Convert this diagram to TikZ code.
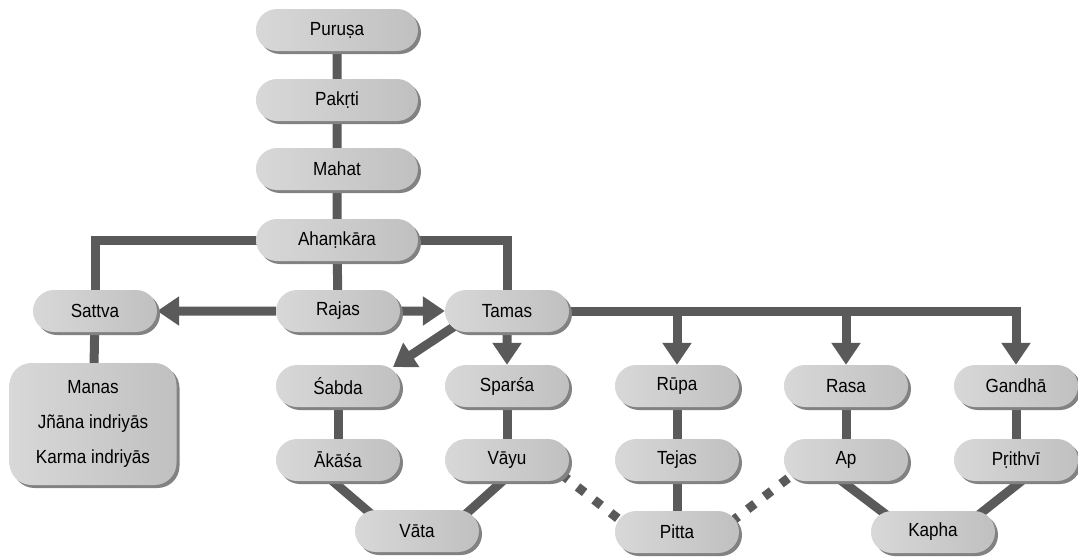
\documentclass[tikz,border=0pt]{standalone}
\usepackage{fontspec}
\setmainfont{Liberation Sans}[FakeStretch=0.9]
\usetikzlibrary{shapes.misc,shadows,arrows.meta,backgrounds}
\definecolor{linegray}{RGB}{90,90,90}
\definecolor{pillL}{RGB}{216,216,216}
\definecolor{pillR}{RGB}{192,192,192}
\definecolor{shadowgray}{RGB}{130,130,130}
\tikzset{
  pill/.style={rounded rectangle, minimum width=124pt, minimum height=42pt, inner sep=0pt,
    left color=pillL, right color=pillR, draw=none,
    drop shadow={shadow xshift=3pt, shadow yshift=-3pt, fill=shadowgray, opacity=1},
    font=\fontsize{19}{22}\selectfont},
  widepill/.style={pill, minimum width=162pt},
  bigbox/.style={rectangle, rounded corners=22pt, minimum width=167pt, minimum height=122pt,
    left color=pillL, right color=pillR, draw=none, align=center,
    drop shadow={shadow xshift=3pt, shadow yshift=-3pt, fill=shadowgray, opacity=1},
    font=\fontsize{19}{35}\selectfont},
  conn/.style={draw=linegray, line width=9pt},
  arr/.style={conn, -{Triangle[length=22pt,width=28pt]}},
  dots/.style={conn, dash pattern=on 9pt off 12pt},
}
\begin{document}
\begin{tikzpicture}[x=1pt,y=-1pt]
\useasboundingbox (0,0) rectangle (1078,557);
\node[widepill] (purusa) at (337,30) {Puruṣa};
\node[widepill] (pakrti) at (337,100) {Pakṛti};
\node[widepill] (mahat) at (337,169) {Mahat};
\node[widepill] (ahamkara) at (337,240) {Ahaṃkāra};
\node[pill] (sattva) at (95,311) {Sattva};
\node[pill] (rajas) at (338,311) {Rajas};
\node[pill] (tamas) at (507,311) {Tamas};
\node[bigbox] (manas) at (93,424) {Manas\\Jñāna indriyās\\Karma indriyās};
\node[pill] (sabda) at (338,386) {Śabda};
\node[pill] (sparsa) at (507,386) {Sparśa};
\node[pill] (rupa) at (677,386) {Rūpa};
\node[pill] (rasa) at (846,386) {Rasa};
\node[pill] (gandha) at (1016,386) {Gandhā};
\node[pill] (akasa) at (338,460) {Ākāśa};
\node[pill] (vayu) at (507,460) {Vāyu};
\node[pill] (tejas) at (677,460) {Tejas};
\node[pill] (ap) at (846,460) {Ap};
\node[pill] (prthvi) at (1016,460) {Pṛithvī};
\node[pill] (vata) at (417,531) {Vāta};
\node[pill] (pitta) at (677,532) {Pitta};
\node[pill] (kapha) at (933,532) {Kapha};

\coordinate (sabdatip) at (393,367);
\coordinate (tamasin) at (470,316);

\begin{pgfonlayer}{background}
\draw[conn] (purusa) -- (pakrti) -- (mahat) -- (ahamkara);
\draw[conn] (ahamkara.center) -- (rajas.center);
\draw[conn] (ahamkara.center) -| (sattva.center);
\draw[conn] (ahamkara.center) -| (tamas.center);
\draw[conn] (sattva.center) -- (manas.center);
\draw[arr] (rajas) -- (sattva);
\draw[arr] (rajas) -- (tamas);
\draw[arr] (tamasin) -- (sabdatip);
\draw[arr] (tamas) -- (sparsa);
\draw[arr] (tamas.center) -| (gandha);
\draw[arr] (tamas.center -| rupa) -- (rupa);
\draw[arr] (tamas.center -| rasa) -- (rasa);
\draw[conn] (sabda.center) -- (akasa.center);
\draw[conn] (sparsa.center) -- (vayu.center);
\draw[conn] (rupa.center) -- (tejas.center) -- (pitta.center);
\draw[conn] (rasa.center) -- (ap.center);
\draw[conn] (gandha.center) -- (prthvi.center);
\draw[conn] ([xshift=-30pt]akasa.center) -- ([xshift=-26pt]vata.center);
\draw[conn] ([xshift=19pt]vayu.center) -- ([xshift=30pt]vata.center);
\draw[conn] ([xshift=-32pt]ap.center) -- ([xshift=-24pt]kapha.center);
\draw[conn] ([xshift=32pt]prthvi.center) -- ([xshift=24pt]kapha.center);
\draw[dots] ([xshift=54pt,yshift=-14pt]vayu.center) -- ([xshift=-52pt,yshift=8pt]pitta.center);
\draw[dots] ([xshift=54pt,yshift=10pt]pitta.center) -- ([xshift=-51pt,yshift=-13pt]ap.center);
\end{pgfonlayer}
\end{tikzpicture}
\end{document}
